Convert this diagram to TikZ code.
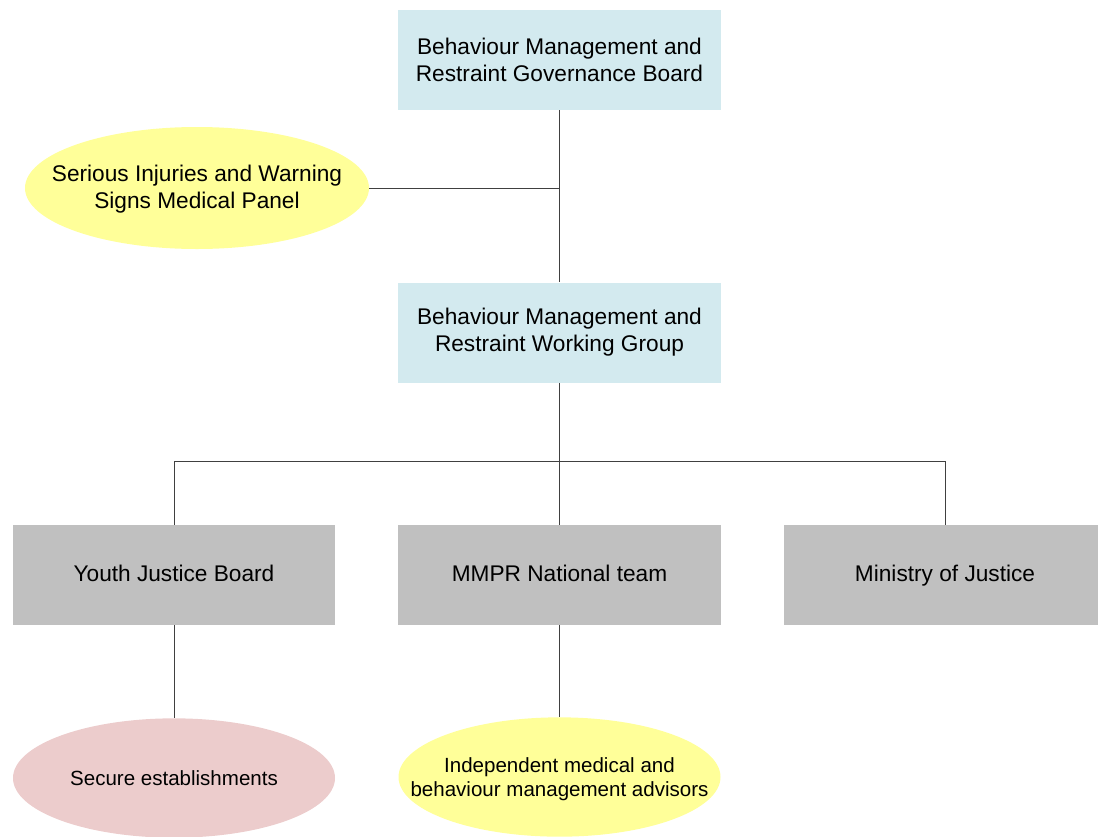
\documentclass[tikz,border=0pt]{standalone}
\usepackage{fontspec}
\setmainfont{Liberation Sans}
\usetikzlibrary{shapes.geometric,positioning}
\definecolor{boardblue}{HTML}{D3EAEF}
\definecolor{panelyellow}{HTML}{FFFF99}
\definecolor{securepink}{HTML}{ECCCCC}
\definecolor{bodygrey}{HTML}{C0C0C0}
\tikzset{
  govbox/.style={rectangle, fill=boardblue, minimum width=242pt, minimum height=75pt, align=center, font=\fontsize{17}{20.25}\selectfont},
  orgbox/.style={rectangle, fill=bodygrey, minimum width=242pt, minimum height=75pt, text height=12.5pt, text depth=3.5pt, font=\fontsize{17}{20.25}\selectfont},
  bigoval/.style={ellipse, fill=panelyellow, minimum width=258pt, minimum height=91.5pt, inner sep=0pt},
  smalloval/.style={ellipse, minimum width=241.5pt, minimum height=89.5pt, inner sep=0pt},
  bigtext/.style={align=center, font=\fontsize{17}{20.25}\selectfont},
  smalltext/.style={align=center, font=\fontsize{15.4}{18}\selectfont},
  link/.style={draw=black!75, line width=0.75pt}
}
\begin{document}
\begin{tikzpicture}[x=0.75pt,y=-0.75pt]
\useasboundingbox (0,0) rectangle (1098,836);
% governance
\node[govbox] (govboard) at (559.5,60) {Behaviour Management and\\Restraint Governance Board};
\node[bigoval, label={[bigtext,yshift=-0.5pt]center:Serious Injuries and Warning\\Signs Medical Panel}] (panel) at (197,188) {};
\node[govbox] (workgroup) at (559.5,332.5) {Behaviour Management and\\Restraint Working Group};
% bodies
\node[orgbox] (yjb) at (174,575) {Youth Justice Board};
\node[orgbox] (mmpr) at (559.5,575) {MMPR National team};
\node[orgbox] (moj) at (945,575) {Ministry of Justice};
% ovals
\node[smalloval, fill=securepink, label={[smalltext]center:Secure establishments}] (secure) at (174,778) {};
\node[smalloval, fill=panelyellow, label={[smalltext,yshift=-2pt]center:Independent medical and\\behaviour management advisors}] (advisors) at (559.5,777) {};
% links
\coordinate (split) at (559.5,461);
\draw[link] (govboard) -- (workgroup);
\draw[link] (panel.east) -- (panel.east -| govboard.south);
\draw[link] (workgroup) -- (split);
\draw[link] (split) -| (yjb);
\draw[link] (split) -| (moj);
\draw[link] (split) -- (mmpr);
\draw[link] (yjb) -- (secure);
\draw[link] (mmpr) -- (advisors);
\end{tikzpicture}
\end{document}
